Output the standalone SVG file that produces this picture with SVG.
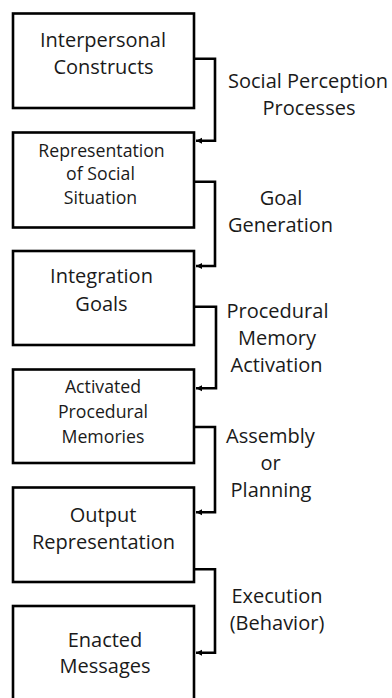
<svg xmlns="http://www.w3.org/2000/svg" width="392" height="698" viewBox="0 0 392 698">
<defs>
<style>
.box{fill:#fff;stroke:#000;stroke-width:2.6}
.con{fill:none;stroke:#000;stroke-width:2.6}
text{font-family:"Open Sans","Noto Sans",sans-serif;fill:#1a1a1a;text-anchor:middle}
.big{font-size:20px}
.small{font-size:17.7px}
</style>
<marker id="ah" markerUnits="userSpaceOnUse" markerWidth="8" markerHeight="8" viewBox="0 0 8 8" refX="6" refY="4" orient="auto">
<path d="M0,1 L6,4 L0,7 Z" fill="#000"/>
</marker>
</defs>
<g id="connectors">
<path class="con" d="M194,58.7 H215 V140.7 H196" marker-end="url(#ah)"/>
<path class="con" d="M194,181.7 H215 V266 H196" marker-end="url(#ah)"/>
<path class="con" d="M194,306.7 H216 V388.3 H196" marker-end="url(#ah)"/>
<path class="con" d="M194,427 H215 V512.3 H196" marker-end="url(#ah)"/>
<path class="con" d="M194,569.3 H215 V652.7 H196" marker-end="url(#ah)"/>
</g>
<g id="labels">
<text class="big" x="308" y="88.3">Social Perception</text>
<text class="big" x="309" y="115">Processes</text>
<text class="big" x="281" y="205">Goal</text>
<text class="big" x="280.5" y="231.7">Generation</text>
<text class="big" x="277.5" y="318.3">Procedural</text>
<text class="big" x="277" y="345">Memory</text>
<text class="big" x="276.5" y="372">Activation</text>
<text class="big" x="270.5" y="443.3">Assembly</text>
<text class="big" x="270.5" y="470">or</text>
<text class="big" x="271" y="496.7">Planning</text>
<text class="big" x="277" y="603.3">Execution</text>
<text class="big" x="277" y="630">(Behavior)</text>
</g>
<g id="n1">
<rect class="box" x="13" y="13.5" width="181" height="94.5"/>
<text class="big" x="103" y="46.7">Interpersonal</text>
<text class="big" x="103.5" y="74">Constructs</text>
</g>
<g id="n2">
<rect class="box" x="13" y="132.5" width="181" height="95"/>
<text class="small" x="101.5" y="156.7">Representation</text>
<text class="small" x="100.5" y="180.2">of Social</text>
<text class="small" x="100.5" y="203.7">Situation</text>
</g>
<g id="n3">
<rect class="box" x="13" y="251" width="181" height="94"/>
<text class="big" x="101.5" y="283">Integration</text>
<text class="big" x="101.5" y="311">Goals</text>
</g>
<g id="n4">
<rect class="box" x="13" y="369.5" width="181" height="93.5"/>
<text class="small" x="103" y="393">Activated</text>
<text class="small" x="103" y="418">Procedural</text>
<text class="small" x="103" y="443">Memories</text>
</g>
<g id="n5">
<rect class="box" x="13" y="487.5" width="181" height="94.5"/>
<text class="big" x="103" y="521.7">Output</text>
<text class="big" x="103.5" y="549.3">Representation</text>
</g>
<g id="n6">
<rect class="box" x="13" y="606" width="181" height="110"/>
<text class="big" x="105" y="646.7">Enacted</text>
<text class="big" x="105" y="673">Messages</text>
</g>
</svg>
